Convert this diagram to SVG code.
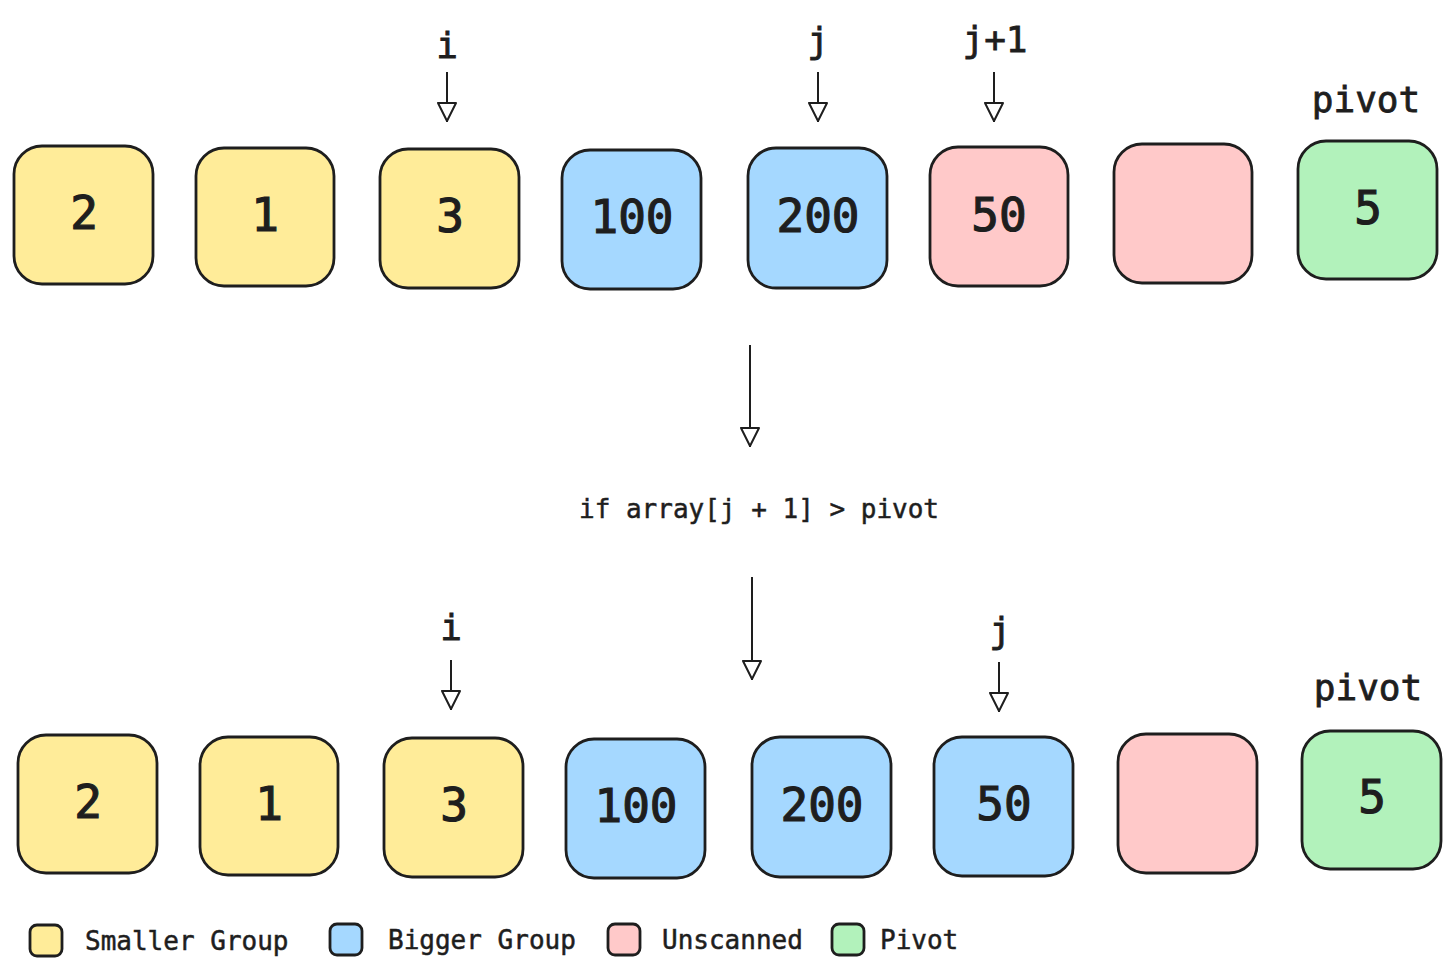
<svg xmlns="http://www.w3.org/2000/svg" width="1456" height="974" viewBox="0 0 1456 974">
<defs>
<marker id="ah" markerUnits="userSpaceOnUse" markerWidth="22" markerHeight="22" viewBox="0 0 22 22" refX="21" refY="11" orient="auto">
<path d="M2,2 L20,11 L2,20 Z" fill="#ffffff" stroke="#1e1e1e" stroke-width="2" stroke-linejoin="round"/>
</marker>
<style>
.box{stroke:#1e1e1e;stroke-width:2.8}
.y{fill:#ffec99}.b{fill:#a5d8ff}.r{fill:#ffc9c9}.g{fill:#b2f2bb}
.num{font-family:"DejaVu Sans Mono","Liberation Mono",monospace;font-size:46px;fill:#1e1e1e;stroke:#1e1e1e;stroke-width:1.2;text-anchor:middle}
.lbl{font-family:"DejaVu Sans Mono","Liberation Mono",monospace;font-size:36px;fill:#1e1e1e;stroke:#1e1e1e;stroke-width:0.8;text-anchor:middle}
.cond{font-family:"DejaVu Sans Mono","Liberation Mono",monospace;font-size:26px;fill:#1e1e1e;stroke:#1e1e1e;stroke-width:0.5;text-anchor:middle}
.leg{font-family:"DejaVu Sans Mono","Liberation Mono",monospace;font-size:26px;fill:#1e1e1e;stroke:#1e1e1e;stroke-width:0.5}
.arr{stroke:#1e1e1e;stroke-width:2;fill:none}
</style>
</defs>
<rect width="1456" height="974" fill="#ffffff"/>
<g id="top-row">
<g id="t1"><rect class="box y" x="14" y="146" width="139" height="138" rx="28"/><text class="num" x="84" y="229">2</text></g>
<g id="t2"><rect class="box y" x="196" y="148" width="138" height="138" rx="28"/><text class="num" x="265" y="231">1</text></g>
<g id="t3"><rect class="box y" x="380" y="149" width="139" height="139" rx="28"/><text class="num" x="450" y="232">3</text></g>
<g id="t4"><rect class="box b" x="562" y="150" width="139" height="139" rx="28"/><text class="num" x="632" y="233">100</text></g>
<g id="t5"><rect class="box b" x="748" y="148" width="139" height="140" rx="28"/><text class="num" x="818" y="232">200</text></g>
<g id="t6"><rect class="box r" x="930" y="147" width="138" height="139" rx="28"/><text class="num" x="999" y="231">50</text></g>
<g id="t7"><rect class="box r" x="1114" y="144" width="138" height="139" rx="28"/></g>
<g id="t8"><rect class="box g" x="1298" y="141" width="139" height="138" rx="28"/><text class="num" x="1368" y="224">5</text></g>
</g>
<g id="bottom-row">
<g id="b1"><rect class="box y" x="18" y="735" width="139" height="138" rx="28"/><text class="num" x="88" y="818">2</text></g>
<g id="b2"><rect class="box y" x="200" y="737" width="138" height="138" rx="28"/><text class="num" x="269" y="820">1</text></g>
<g id="b3"><rect class="box y" x="384" y="738" width="139" height="139" rx="28"/><text class="num" x="454" y="821">3</text></g>
<g id="b4"><rect class="box b" x="566" y="739" width="139" height="139" rx="28"/><text class="num" x="636" y="822">100</text></g>
<g id="b5"><rect class="box b" x="752" y="737" width="139" height="140" rx="28"/><text class="num" x="822" y="821">200</text></g>
<g id="b6"><rect class="box b" x="934" y="737" width="139" height="139" rx="28"/><text class="num" x="1004" y="820">50</text></g>
<g id="b7"><rect class="box r" x="1118" y="734" width="139" height="139" rx="28"/></g>
<g id="b8"><rect class="box g" x="1302" y="731" width="139" height="138" rx="28"/><text class="num" x="1372" y="813">5</text></g>
</g>
<g id="labels">
<text class="lbl" x="447" y="58">i</text>
<text class="lbl" x="818" y="53">j</text>
<text class="lbl" x="995" y="52">j+1</text>
<text class="lbl" x="1366" y="112">pivot</text>
<text class="lbl" x="451" y="640">i</text>
<text class="lbl" x="1000" y="643">j</text>
<text class="lbl" x="1368" y="700">pivot</text>
<text class="cond" x="759" y="518">if array[j + 1] &gt; pivot</text>
</g>
<g id="connectors">
<line class="arr" x1="447" y1="72" x2="447" y2="122" marker-end="url(#ah)"/>
<line class="arr" x1="818" y1="72" x2="818" y2="122" marker-end="url(#ah)"/>
<line class="arr" x1="994" y1="72" x2="994" y2="122" marker-end="url(#ah)"/>
<line class="arr" x1="750" y1="345" x2="750" y2="447" marker-end="url(#ah)"/>
<line class="arr" x1="752" y1="577" x2="752" y2="680" marker-end="url(#ah)"/>
<line class="arr" x1="451" y1="660" x2="451" y2="710" marker-end="url(#ah)"/>
<line class="arr" x1="999" y1="662" x2="999" y2="712" marker-end="url(#ah)"/>
</g>
<g id="legend">
<g id="leg-smaller"><rect class="box y" x="30" y="925" width="32" height="31" rx="7"/><text class="leg" x="85" y="950">Smaller Group</text></g>
<g id="leg-bigger"><rect class="box b" x="330" y="924" width="32" height="31" rx="7"/><text class="leg" x="388" y="949">Bigger Group</text></g>
<g id="leg-unscanned"><rect class="box r" x="608" y="924" width="32" height="31" rx="7"/><text class="leg" x="662" y="949">Unscanned</text></g>
<g id="leg-pivot"><rect class="box g" x="832" y="924" width="32" height="31" rx="7"/><text class="leg" x="880" y="949">Pivot</text></g>
</g>
</svg>
